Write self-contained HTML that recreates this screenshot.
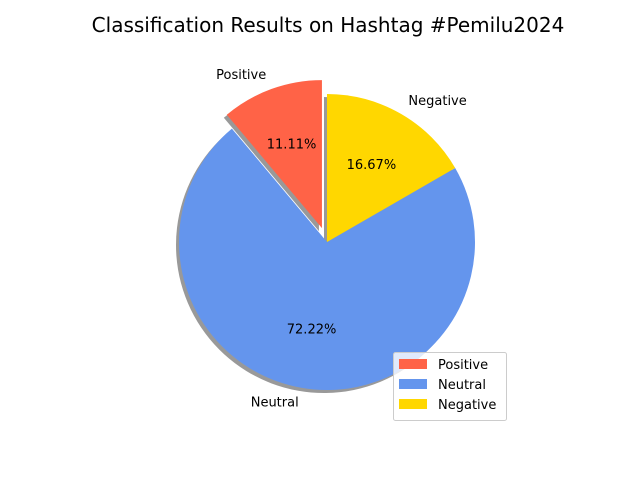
<!DOCTYPE html>
<html><head><meta charset="utf-8"><style>
body{margin:0;background:#fff;}
svg{display:block;font-family:"DejaVu Sans","Liberation Sans",sans-serif;}
</style></head><body>
<svg id="chart" width="640" height="480" viewBox="0 0 640 480">
<rect width="640" height="480" fill="#fff"/>
<text x="328" y="32" text-anchor="middle" font-size="20" fill="#000">Classification Results on Hashtag #Pemilu2024</text>
<g id="shadows"></g><g id="slices"></g><g id="labels"></g>
<g>
<rect x="393.5" y="352.5" width="113" height="68" rx="2" fill="#fff" fill-opacity="0.8" stroke="#ccc"/>
<g id="legend-items"></g>
</g>
</svg>
<script>
const categories = ["Positive","Neutral","Negative"];
const values = [11.11, 72.22, 16.67];
const explode = [0.1, 0, 0];
const colors = ["#ff6347","#6495ed","#ffd700"];
const NS="http://www.w3.org/2000/svg";
const cx=327, cy=242, R=148;
const total=values.reduce((a,b)=>a+b,0);
function pt(x,y,r,a){return [x+r*Math.cos(a*Math.PI/180), y-r*Math.sin(a*Math.PI/180)];}
function wedge(x,y,a0,a1){
  const p0=pt(x,y,R,a0), p1=pt(x,y,R,a1);
  const large=(a1-a0)>180?1:0;
  return `M${x},${y} L${p0[0]},${p0[1]} A${R},${R} 0 ${large} 0 ${p1[0]},${p1[1]} Z`;
}
const sh=document.getElementById('shadows'), sl=document.getElementById('slices'), lb=document.getElementById('labels'), lg=document.getElementById('legend-items');
let a=90;
values.forEach((v,i)=>{
  const span=v/total*360, a0=a, a1=a+span, mid=(a0+a1)/2;
  const off=pt(0,0,explode[i]*R,mid);
  const x=cx+off[0], y=cy+off[1];
  const s=document.createElementNS(NS,'path');
  s.setAttribute('d',wedge(x-3,y+3,a0,a1));
  s.setAttribute('fill','#000');s.setAttribute('fill-opacity','0.4');
  
  
  sh.appendChild(s);
  const p=document.createElementNS(NS,'path');
  p.setAttribute('d',wedge(x,y,a0,a1));
  p.setAttribute('fill',colors[i]);
  
  
  sl.appendChild(p);
  const lp=pt(x,y,1.1*R,mid);
  const t=document.createElementNS(NS,'text');
  t.setAttribute('x',lp[0]);t.setAttribute('y',lp[1]+4);t.setAttribute('font-size','13');
  t.setAttribute('text-anchor',Math.cos(mid*Math.PI/180)<0?'end':'start');
  t.textContent=categories[i];
  
  
  lb.appendChild(t);
  const pp=pt(x,y,0.6*R,mid);
  const q=document.createElementNS(NS,'text');
  q.setAttribute('x',pp[0]);q.setAttribute('y',pp[1]+4);q.setAttribute('font-size','13');
  q.setAttribute('text-anchor','middle');
  q.textContent=(v/total*100).toFixed(2)+'%';
  
  
  lb.appendChild(q);
  const ly=359+i*20;
  const r=document.createElementNS(NS,'rect');
  r.setAttribute('x',399);r.setAttribute('y',ly);r.setAttribute('width',28);r.setAttribute('height',10);r.setAttribute('fill',colors[i]);
  
  
  lg.appendChild(r);
  const lt=document.createElementNS(NS,'text');
  lt.setAttribute('x',438);lt.setAttribute('y',ly+10);lt.setAttribute('font-size','13');
  lt.textContent=categories[i];
  
  
  lg.appendChild(lt);
  a=a1;
});
</script>
</body></html>
